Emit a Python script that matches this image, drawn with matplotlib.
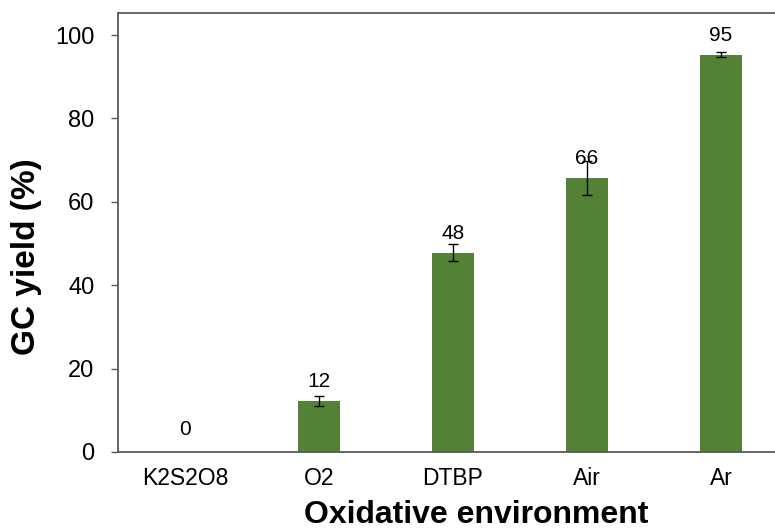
import matplotlib.pyplot as plt
import numpy as np

plt.rcParams['font.family'] = ['Liberation Sans', 'DejaVu Sans']

# oxidant screening data
oxidants = ['K2S2O8', 'O2', 'DTBP', 'Air', 'Ar']
yields = [0, 12.3, 47.8, 65.8, 95.3]
errors = [0, 1.2, 2.1, 4.1, 0.6]
labels = ['0', '12', '48', '66', '95']

green = '#538135'
grey = '#595959'

fig = plt.figure(figsize=(7.75, 5.3), dpi=100)
ax = fig.add_axes([118 / 775, 78 / 530, 670 / 775, 439 / 530])

x = np.arange(len(oxidants))
ax.bar(x, yields, width=0.31, color=green, zorder=2)
ax.errorbar(x[1:], yields[1:], yerr=errors[1:], fmt='none', ecolor='black',
            elinewidth=1, capsize=3.5, capthick=1, zorder=3)

for xi, val, lab in zip(x, yields, labels):
    ax.annotate(lab, (xi, val), xytext=(0, 10 if val > 0 else 12.5),
                textcoords='offset points', ha='center', va='baseline', fontsize=15)

ax.set_xlim(-0.5, 4.5)
ax.set_ylim(0, 105.3)
ax.set_yticks([0, 20, 40, 60, 80, 100])
ax.set_xticks(x)
ax.set_xticklabels(oxidants)
ax.tick_params(axis='y', labelsize=17, length=5, width=1, color=grey, pad=12)
ax.tick_params(axis='x', labelsize=16.5, length=0, pad=11)

for side in ['left', 'bottom', 'top']:
    ax.spines[side].set_color(grey)
    ax.spines[side].set_linewidth(1.3)
ax.spines['right'].set_visible(False)

# axis titles placed by hand, they sit off-centre in the original
fig.text(476 / 775, 1 - 515 / 530, 'Oxidative environment', fontsize=23,
         fontweight='bold', ha='center', va='center')
fig.text(27 / 775, 1 - 257 / 530, 'GC yield (%)', fontsize=24,
         fontweight='bold', ha='center', va='center', rotation=90)

fig.savefig('out.png', dpi=100)
